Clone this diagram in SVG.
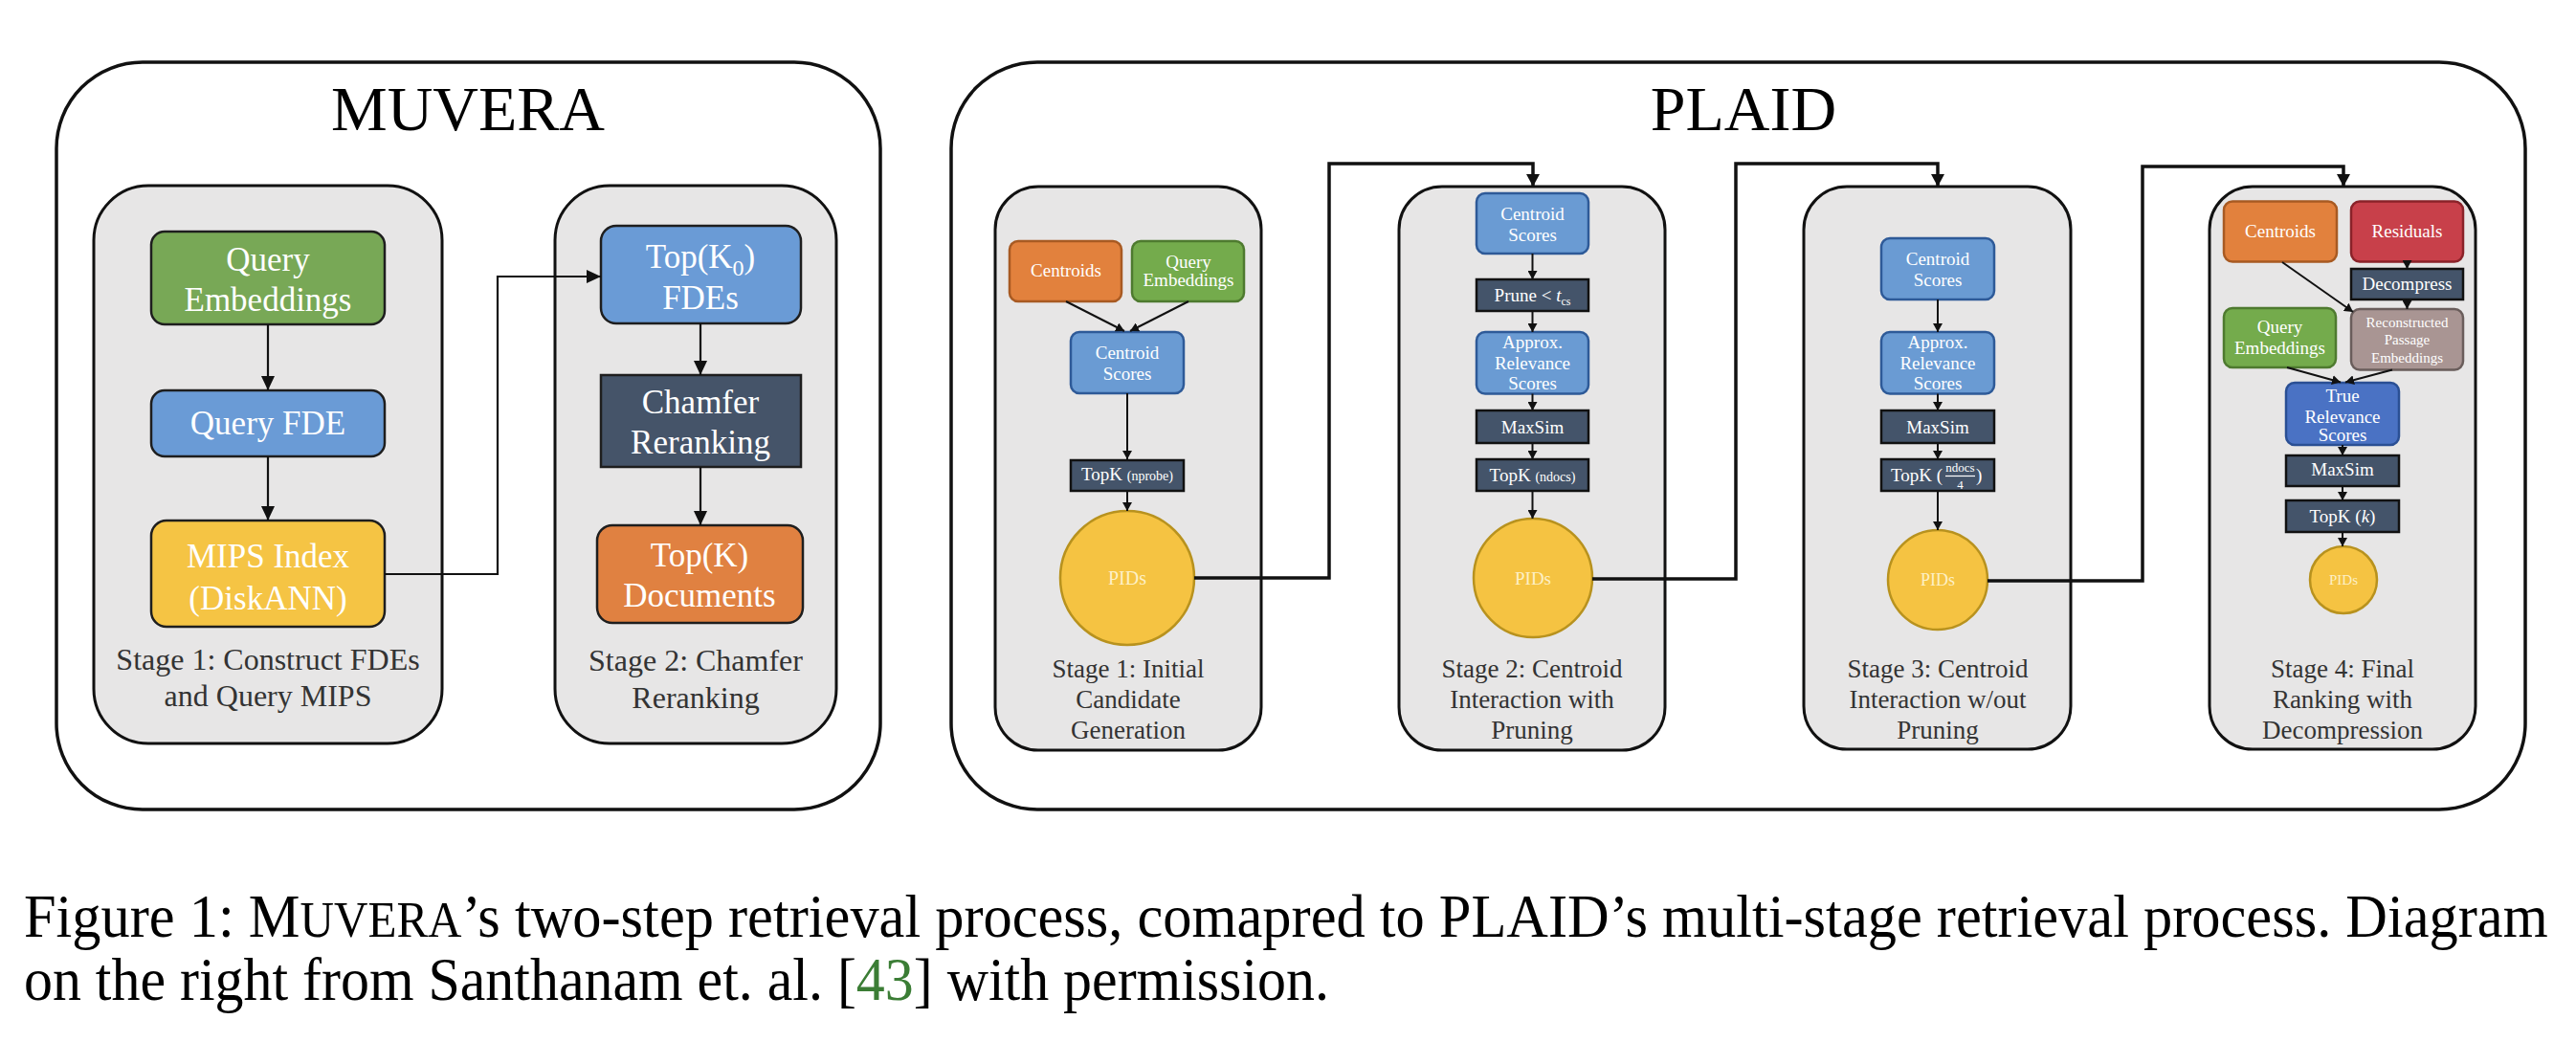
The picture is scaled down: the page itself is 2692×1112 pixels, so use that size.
<svg xmlns="http://www.w3.org/2000/svg" width="2692" height="1112" viewBox="0 0 2692 1112">
<defs>
<style>
text{font-family:"Liberation Serif","Times New Roman",serif}
.outer{fill:#fff;stroke:#111;stroke-width:3.5}
.stage{fill:#e7e6e6;stroke:#111;stroke-width:3}
.title{font-size:66px;fill:#000;text-anchor:middle}
.mt{font-size:35px;fill:#fff;text-anchor:middle}
.ml{font-size:32px;fill:#333;text-anchor:middle}
.pt{font-size:19px;fill:#fff;text-anchor:middle}
.pl{font-size:27px;fill:#333;text-anchor:middle}
.pid{fill:#fdf0c6;text-anchor:middle}
.mbox{stroke:#1e1e1e;stroke-width:2.5}
.g1{fill:#78a856}.b1{fill:#6a9bd6}.y1{fill:#f5c444}.o1{fill:#e08141}.s1{fill:#455469}
.pb{fill:#6a9bd3;stroke:#2e5a98;stroke-width:2.5}
.pg{fill:#74ab4c;stroke:#4e7a2f;stroke-width:2.5}
.po{fill:#e2813d;stroke:#a85a22;stroke-width:2.5}
.pr{fill:#c8404a;stroke:#8a2229;stroke-width:2.5}
.pw{fill:#a99593;stroke:#6a5d5b;stroke-width:2.5}
.pt2{fill:#4a72c4;stroke:#2a4f94;stroke-width:2.5}
.ps{fill:#44546a;stroke:#111;stroke-width:2.5}
.py{fill:#f5c342;stroke:#b8921e;stroke-width:2.5}
.c1{fill:none;stroke:#111;stroke-width:2.2}
.c2{fill:none;stroke:#111;stroke-width:2}
.c3{fill:none;stroke:#111;stroke-width:3.5}
.cap{font-size:64px;fill:#000}
</style>
<marker id="a1" markerUnits="userSpaceOnUse" markerWidth="16" markerHeight="14" refX="15" refY="7" orient="auto"><path d="M0,0 L15,7 L0,14 z" fill="#111"/></marker>
<marker id="a2" markerUnits="userSpaceOnUse" markerWidth="10" markerHeight="10" refX="9" refY="5" orient="auto"><path d="M0,0 L9,5 L0,10 z" fill="#111"/></marker>
<marker id="a3" markerUnits="userSpaceOnUse" markerWidth="14" markerHeight="14" refX="13" refY="7" orient="auto"><path d="M0,0 L13,7 L0,14 z" fill="#111"/></marker>
</defs>
<rect width="2692" height="1112" fill="#fff"/>

<g id="muvera-frame">
<rect class="outer" x="59" y="65" width="861" height="781" rx="90"/>
<text class="title" x="489" y="136">MUVERA</text>
</g>
<g id="muvera-stage1">
<rect class="stage" x="98" y="194" width="364" height="583" rx="57"/>
<text class="ml" x="280" y="700">Stage 1: Construct FDEs</text>
<text class="ml" x="280" y="738">and Query MIPS</text>
</g>
<g id="muvera-stage2">
<rect class="stage" x="580" y="194" width="294" height="583" rx="57"/>
<text class="ml" x="727" y="701">Stage 2: Chamfer</text>
<text class="ml" x="727" y="740">Reranking</text>
</g>
<g id="m-query-emb">
<rect class="mbox g1" x="158" y="242" width="244" height="97" rx="14"/>
<text class="mt" x="280" y="283">Query</text>
<text class="mt" x="280" y="325">Embeddings</text>
</g>
<g id="m-query-fde">
<rect class="mbox b1" x="158" y="408" width="244" height="69" rx="14"/>
<text class="mt" x="280" y="454">Query FDE</text>
</g>
<g id="m-mips">
<rect class="mbox y1" x="158" y="544" width="244" height="111" rx="16"/>
<text class="mt" x="280" y="593">MIPS Index</text>
<text class="mt" x="280" y="637">(DiskANN)</text>
</g>
<g id="m-topk0">
<rect class="mbox b1" x="628" y="236" width="209" height="102" rx="16"/>
<text class="mt" x="732" y="280">Top(K<tspan font-size="24" dy="8">0</tspan><tspan dy="-8">)</tspan></text>
<text class="mt" x="732" y="323">FDEs</text>
</g>
<g id="m-chamfer">
<rect class="mbox s1" x="628" y="392" width="209" height="96"/>
<text class="mt" x="732" y="432">Chamfer</text>
<text class="mt" x="732" y="474">Reranking</text>
</g>
<g id="m-topk">
<rect class="mbox o1" x="624" y="549" width="215" height="102" rx="16"/>
<text class="mt" x="731" y="592">Top(K)</text>
<text class="mt" x="731" y="634">Documents</text>
</g>

<g id="plaid-frame">
<rect class="outer" x="994" y="65" width="1645" height="781" rx="90"/>
<text class="title" x="1822" y="136">PLAID</text>
</g>
<g id="plaid-stage1">
<rect class="stage" x="1040" y="195" width="278" height="589" rx="45"/>
<text class="pl" x="1179" y="708">Stage 1: Initial</text>
<text class="pl" x="1179" y="740">Candidate</text>
<text class="pl" x="1179" y="772">Generation</text>
</g>
<g id="plaid-stage2">
<rect class="stage" x="1462" y="195" width="278" height="589" rx="45"/>
<text class="pl" x="1601" y="708">Stage 2: Centroid</text>
<text class="pl" x="1601" y="740">Interaction with</text>
<text class="pl" x="1601" y="772">Pruning</text>
</g>
<g id="plaid-stage3">
<rect class="stage" x="1885" y="195" width="279" height="588" rx="45"/>
<text class="pl" x="2025" y="708">Stage 3: Centroid</text>
<text class="pl" x="2025" y="740">Interaction w/out</text>
<text class="pl" x="2025" y="772">Pruning</text>
</g>
<g id="plaid-stage4">
<rect class="stage" x="2309" y="195" width="278" height="588" rx="45"/>
<text class="pl" x="2448" y="708">Stage 4: Final</text>
<text class="pl" x="2448" y="740">Ranking with</text>
<text class="pl" x="2448" y="772">Decompression</text>
</g>

<g id="s1-centroids"><rect class="po" x="1055" y="252" width="117" height="63" rx="9"/><text class="pt" x="1114" y="289">Centroids</text></g>
<g id="s1-query-emb"><rect class="pg" x="1183" y="252" width="117" height="63" rx="9"/><text class="pt" x="1242" y="280">Query</text><text class="pt" x="1242" y="299">Embeddings</text></g>
<g id="s1-centroid-scores"><rect class="pb" x="1119" y="347" width="118" height="64" rx="9"/><text class="pt" x="1178" y="375">Centroid</text><text class="pt" x="1178" y="397">Scores</text></g>
<g id="s1-topk"><rect class="ps" x="1119" y="481" width="118" height="32"/><text class="pt" x="1178" y="502">TopK <tspan font-size="14">(nprobe)</tspan></text></g>
<g id="s1-pids"><circle class="py" cx="1178" cy="604" r="70"/><text class="pid" x="1178" y="611" font-size="20">PIDs</text></g>

<g id="s2-centroid-scores"><rect class="pb" x="1543" y="202" width="117" height="63" rx="9"/><text class="pt" x="1601.5" y="230">Centroid</text><text class="pt" x="1601.5" y="251.5">Scores</text></g>
<g id="s2-prune"><rect class="ps" x="1543" y="292" width="117" height="33"/><text class="pt" x="1601.5" y="315">Prune &lt; <tspan font-style="italic">t</tspan><tspan font-size="12" dy="4">cs</tspan></text></g>
<g id="s2-approx"><rect class="pb" x="1543" y="347" width="117" height="64.5" rx="9"/><text class="pt" x="1601.5" y="364">Approx.</text><text class="pt" x="1601.5" y="386">Relevance</text><text class="pt" x="1601.5" y="406.5">Scores</text></g>
<g id="s2-maxsim"><rect class="ps" x="1543" y="429" width="117" height="34"/><text class="pt" x="1601.5" y="452.5">MaxSim</text></g>
<g id="s2-topk"><rect class="ps" x="1543" y="480" width="117" height="33"/><text class="pt" x="1601.5" y="503">TopK <tspan font-size="14">(ndocs)</tspan></text></g>
<g id="s2-pids"><circle class="py" cx="1602" cy="604" r="62"/><text class="pid" x="1602" y="611" font-size="19">PIDs</text></g>

<g id="s3-centroid-scores"><rect class="pb" x="1966" y="249" width="118" height="64" rx="9"/><text class="pt" x="2025" y="277">Centroid</text><text class="pt" x="2025" y="299">Scores</text></g>
<g id="s3-approx"><rect class="pb" x="1966" y="347" width="118" height="64.5" rx="9"/><text class="pt" x="2025" y="364">Approx.</text><text class="pt" x="2025" y="386">Relevance</text><text class="pt" x="2025" y="406.5">Scores</text></g>
<g id="s3-maxsim"><rect class="ps" x="1966" y="429" width="118" height="34"/><text class="pt" x="2025" y="452.5">MaxSim</text></g>
<g id="s3-topk"><rect class="ps" x="1966" y="480" width="118" height="33"/>
<text class="pt" x="2030" y="503" style="text-anchor:end">TopK (</text>
<text class="pt" x="2048.5" y="493" style="font-size:13px">ndocs</text>
<line x1="2033" y1="497.5" x2="2064" y2="497.5" stroke="#fff" stroke-width="1.2"/>
<text class="pt" x="2048.5" y="511" style="font-size:13px">4</text>
<text class="pt" x="2065" y="503" style="text-anchor:start">)</text></g>
<g id="s3-pids"><circle class="py" cx="2025" cy="606" r="52"/><text class="pid" x="2025" y="612" font-size="18">PIDs</text></g>

<g id="s4-centroids"><rect class="po" x="2324" y="210.5" width="118" height="63" rx="9"/><text class="pt" x="2383" y="248">Centroids</text></g>
<g id="s4-residuals"><rect class="pr" x="2457" y="210.5" width="117" height="63" rx="9"/><text class="pt" x="2515.5" y="248">Residuals</text></g>
<g id="s4-decompress"><rect class="ps" x="2457" y="281" width="117" height="32"/><text class="pt" x="2515.5" y="303">Decompress</text></g>
<g id="s4-query-emb"><rect class="pg" x="2324" y="322" width="117" height="62" rx="9"/><text class="pt" x="2382.5" y="348">Query</text><text class="pt" x="2382.5" y="369.5">Embeddings</text></g>
<g id="s4-reconstructed"><rect class="pw" x="2457" y="323" width="117" height="63.5" rx="9"/><text class="pt" x="2515.5" y="341.5" style="font-size:15px">Reconstructed</text><text class="pt" x="2515.5" y="360" style="font-size:15px">Passage</text><text class="pt" x="2515.5" y="378.5" style="font-size:15px">Embeddings</text></g>
<g id="s4-true-relevance"><rect class="pt2" x="2389" y="400" width="118" height="65" rx="9"/><text class="pt" x="2448" y="420">True</text><text class="pt" x="2448" y="441.5">Relevance</text><text class="pt" x="2448" y="461">Scores</text></g>
<g id="s4-maxsim"><rect class="ps" x="2389" y="476" width="118" height="32"/><text class="pt" x="2448" y="497">MaxSim</text></g>
<g id="s4-topk"><rect class="ps" x="2389" y="523" width="118" height="33"/><text class="pt" x="2448" y="546">TopK (<tspan font-style="italic">k</tspan>)</text></g>
<g id="s4-pids"><circle class="py" cx="2449" cy="606" r="35"/><text class="pid" x="2449" y="611" font-size="15">PIDs</text></g>

<g id="connectors">
<line class="c1" x1="280" y1="339" x2="280" y2="408" marker-end="url(#a1)"/>
<line class="c1" x1="280" y1="477" x2="280" y2="544" marker-end="url(#a1)"/>
<line class="c1" x1="732" y1="338" x2="732" y2="392" marker-end="url(#a1)"/>
<line class="c1" x1="732" y1="488" x2="732" y2="549" marker-end="url(#a1)"/>
<polyline class="c1" points="402,600 520,600 520,289 628,289" marker-end="url(#a1)"/>

<line class="c2" x1="1114" y1="315" x2="1175" y2="346" marker-end="url(#a2)"/>
<line class="c2" x1="1242" y1="315" x2="1181" y2="346" marker-end="url(#a2)"/>
<line class="c2" x1="1178" y1="411" x2="1178" y2="480" marker-end="url(#a2)"/>
<line class="c2" x1="1178" y1="513" x2="1178" y2="534" marker-end="url(#a2)"/>
<polyline class="c3" points="1248,604 1389,604 1389,171 1602,171 1602,195" marker-end="url(#a3)"/>

<line class="c2" x1="1601.5" y1="265" x2="1601.5" y2="292" marker-end="url(#a2)"/>
<line class="c2" x1="1601.5" y1="325" x2="1601.5" y2="347" marker-end="url(#a2)"/>
<line class="c2" x1="1601.5" y1="411.5" x2="1601.5" y2="429" marker-end="url(#a2)"/>
<line class="c2" x1="1601.5" y1="463" x2="1601.5" y2="480" marker-end="url(#a2)"/>
<line class="c2" x1="1601.5" y1="513" x2="1601.5" y2="542" marker-end="url(#a2)"/>
<polyline class="c3" points="1664,605 1814,605 1814,171 2025,171 2025,195" marker-end="url(#a3)"/>

<line class="c2" x1="2025" y1="313" x2="2025" y2="347" marker-end="url(#a2)"/>
<line class="c2" x1="2025" y1="411.5" x2="2025" y2="429" marker-end="url(#a2)"/>
<line class="c2" x1="2025" y1="463" x2="2025" y2="480" marker-end="url(#a2)"/>
<line class="c2" x1="2025" y1="513" x2="2025" y2="554" marker-end="url(#a2)"/>
<polyline class="c3" points="2077,607 2239,607 2239,174 2449,174 2449,195" marker-end="url(#a3)"/>

<line class="c2" x1="2515.5" y1="273.5" x2="2515.5" y2="281" marker-end="url(#a2)"/>
<line class="c2" x1="2515.5" y1="313" x2="2515.5" y2="323" marker-end="url(#a2)"/>
<line class="c2" x1="2385" y1="274" x2="2459" y2="326" marker-end="url(#a2)"/>
<line class="c2" x1="2390" y1="384" x2="2446" y2="399.5" marker-end="url(#a2)"/>
<line class="c2" x1="2500" y1="386.5" x2="2451" y2="399.5" marker-end="url(#a2)"/>
<line class="c2" x1="2448" y1="465" x2="2448" y2="476" marker-end="url(#a2)"/>
<line class="c2" x1="2448" y1="508" x2="2448" y2="523" marker-end="url(#a2)"/>
<line class="c2" x1="2448" y1="556" x2="2448" y2="571" marker-end="url(#a2)"/>
</g>

<g id="caption">
<text class="cap" transform="translate(25,979) scale(0.94,1)" x="0" y="0" textLength="2806" lengthAdjust="spacingAndGlyphs">Figure 1: M<tspan font-size="52">UVERA</tspan>’s two-step retrieval process, comapred to PLAID’s multi-stage retrieval process. Diagram</text>
<text class="cap" transform="translate(25,1045) scale(0.94,1)" x="0" y="0" textLength="1451" lengthAdjust="spacingAndGlyphs">on the right from Santhanam et. al. [<tspan fill="#3b7d35">43</tspan>] with permission.</text>
</g>
</svg>
